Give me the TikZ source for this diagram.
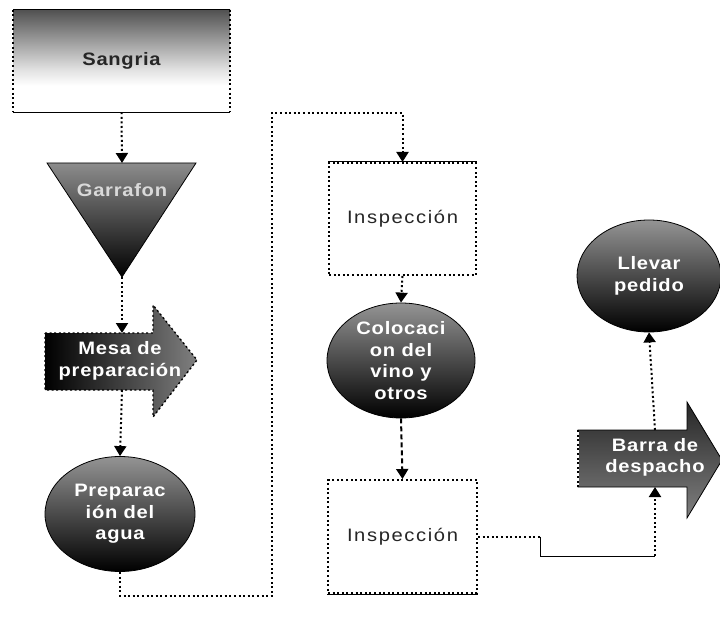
\documentclass[tikz,border=0pt]{standalone}
\usepackage{fontspec}
\setmainfont{Liberation Sans}
\usetikzlibrary{arrows.meta,shapes.geometric}
\pgfdeclareverticalshading{sangriashade}{100bp}{color(0bp)=(white); color(25bp)=(white); color(38bp)=(white); color(46bp)=(black!12); color(75bp)=(black!68); color(100bp)=(black!68)}
\begin{document}
\begin{tikzpicture}[x=1pt,y=-1pt,
  dots/.style={dash pattern=on 2pt off 2.6pt,line width=2pt},
  flow/.style={dots,-{Triangle[width=12pt,length=10pt]}},
  link/.style={dots},
  lbl/.style={font=\fontsize{18}{21.5}\selectfont\bfseries\addfontfeature{FakeStretch=1.12,LetterSpace=4},align=center,text=white},
  inspbox/.style={draw,dots,fill=white,minimum width=147pt,minimum height=113pt,
    font=\fontsize{18}{21.5}\selectfont\addfontfeature{FakeStretch=1.12,LetterSpace=9},text=black!85},
  bulb/.style={ellipse,shade,top color=black!42,middle color=black!78,bottom color=black,draw=black,line width=.8pt,inner sep=0pt,lbl}]
\fill[white] (0,0) rectangle (720,620);
\useasboundingbox (0,0) rectangle (720,620);
\node[shade,shading=sangriashade,minimum width=217pt,minimum height=102pt,inner sep=0pt,lbl,text=black!85] (sangria) at (121.5,61) {Sangria};
\draw[line width=1pt] (sangria.north west) -- (sangria.north east);
\draw[line width=1pt] (sangria.south west) -- (sangria.south east);
\draw[link] (sangria.north west) -- (sangria.south west);
\draw[link] (sangria.north east) -- (sangria.south east);
\coordinate (garL) at (47,163);
\coordinate (garR) at (196,163);
\coordinate (garB) at (122,277);
\coordinate (garT) at (122,163);
\shadedraw[top color=black!45,middle color=black!80,bottom color=black,draw=black,line width=.8pt] (garL) -- (garR) -- (garB) -- cycle;
\node[lbl,text=black!15] (garrafon) at (122,190) {Garrafon};
\coordinate (mesaT) at (122,333);
\coordinate (mesaB) at (122,390);
\shadedraw[left color=black,right color=black!50,draw=black,dots,line width=1.4pt] (45,333) -- (153,333) -- (153,305) -- (197,360) -- (153,417) -- (153,390) -- (45,390) -- cycle;
\node[lbl] (mesa) at (120,361) {Mesa de\\preparación};
\node[bulb,minimum width=150pt,minimum height=115pt] (agua) at (120,514) {Preparac\\ión del\\agua};
\node[inspbox,minimum height=112pt] (insp1) at (402.5,219) {Inspección};
\draw[line width=1pt] (insp1.north west) -- (insp1.north east);
\node[bulb,minimum width=148pt,minimum height=115pt] (coloc) at (401,360.5) {Colocaci\\on del\\vino y\\otros};
\node[inspbox,minimum width=149pt] (insp2) at (402.5,536.5) {Inspección};
\draw[line width=1pt] (insp2.south west) -- (insp2.south east);
\coordinate (barT) at (655,430);
\coordinate (barB) at (655,487);
\shadedraw[top color=black!85,bottom color=black!50,draw=black,line width=.8pt] (578,430) -- (687,430) -- (687,402) -- (722,460) -- (687,518) -- (687,487) -- (578,487) -- cycle;
\draw[white,line width=1.6pt] (578,431) -- (578,486);
\draw[link] (578,430) -- (578,487);
\node[lbl] (barra) at (655,457.5) {Barra de\\despacho};
\node[bulb,minimum width=144pt,minimum height=112pt] (llevar) at (649,276) {Llevar\\pedido};
\coordinate (turn1) at (272,596);
\coordinate (turn2) at (272,113);
\coordinate (j1) at (540,536.5);
\coordinate (j2) at (655,556);
\draw[flow] (sangria.south) -- (garT);
\draw[flow] (garB) -- (mesaT);
\draw[flow] (mesaB) -- (agua.north);
\draw[flow] (agua.south) |- (turn1) -- (turn2) -| (insp1.north);
\draw[flow] (insp1.south) -- (coloc.north);
\draw[flow,dash pattern=on 5pt off 3pt] (coloc.south) -- (insp2.north);
\draw[link] (insp2.east) -- (j1);
\draw[line width=1pt] (j1) |- (j2);
\draw[flow] (j2) -- (barB);
\draw[flow] (barT) -- (llevar.south);
\end{tikzpicture}
\end{document}
